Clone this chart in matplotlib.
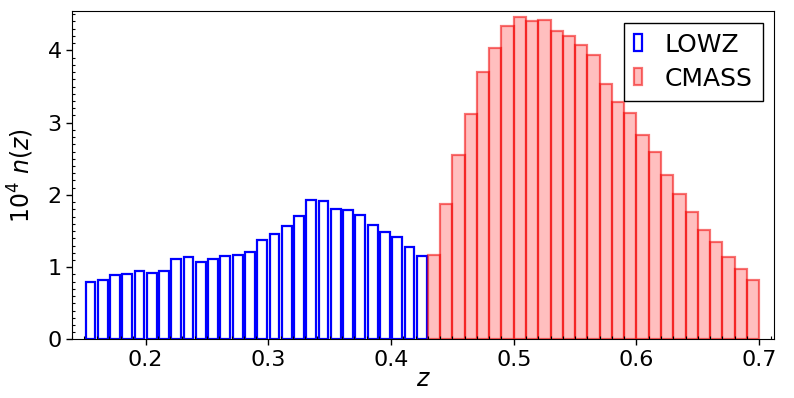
import matplotlib
matplotlib.use("Agg")
import matplotlib.pyplot as plt
from matplotlib.ticker import MultipleLocator
import numpy as np

# n(z) histograms, in units of 1e-4, bin width 0.01
LOWZ_EDGES_START = 0.15
LOWZ_NZ = [0.79, 0.83, 0.89, 0.90, 0.95, 0.92, 0.95, 1.11, 1.14, 1.07,
           1.11, 1.15, 1.17, 1.21, 1.37, 1.46, 1.57, 1.71, 1.93, 1.91,
           1.80, 1.79, 1.72, 1.58, 1.49, 1.42, 1.28, 1.15]

CMASS_EDGES_START = 0.43
CMASS_NZ = [1.17, 1.87, 2.55, 3.12, 3.70, 4.03, 4.34, 4.46, 4.40, 4.42,
            4.27, 4.20, 4.07, 3.94, 3.53, 3.29, 3.13, 2.83, 2.59, 2.28,
            2.01, 1.76, 1.52, 1.35, 1.14, 0.97, 0.82]

BIN = 0.01

plt.rcParams["font.family"] = ["DejaVu Sans"]
plt.rcParams["mathtext.fontset"] = "dejavusans"

fig = plt.figure(figsize=(7.94, 3.98), dpi=100)
ax = fig.add_axes([0.0907, 0.147, 0.884, 0.8245])

lowz_x = LOWZ_EDGES_START + BIN * (np.arange(len(LOWZ_NZ)) + 0.5)
cmass_x = CMASS_EDGES_START + BIN * np.arange(len(CMASS_NZ))

ax.bar(lowz_x, LOWZ_NZ, width=0.8 * BIN, fill=False, edgecolor="#0000ff",
       linewidth=1.6, label="LOWZ")
ax.bar(cmass_x, CMASS_NZ, width=BIN, align="edge", facecolor=(1, 0, 0, 0.25),
       edgecolor=(0.95, 0, 0, 0.55), linewidth=1.6, label="CMASS")

ax.set_xlim(0.14, 0.712)
ax.set_ylim(0, 4.54)
ax.xaxis.set_major_locator(MultipleLocator(0.1))
ax.xaxis.set_minor_locator(MultipleLocator(0.01))
ax.yaxis.set_major_locator(MultipleLocator(1))
ax.yaxis.set_minor_locator(MultipleLocator(0.1))
ax.tick_params(which="major", direction="out", length=4, width=1, labelsize=16)
ax.tick_params(which="minor", direction="in", length=2.5, width=0.8)

ax.set_xlabel(r"$z$", fontsize=17, labelpad=-2)
ax.set_ylabel(r"$10^4\ n(z)$", fontsize=17, labelpad=8)

leg = ax.legend(loc="upper right", fontsize=18, handlelength=0.35,
                handleheight=0.65, handletextpad=0.9, borderpad=0.4,
                labelspacing=0.4, fancybox=False, framealpha=1,
                edgecolor="black", borderaxespad=0.45)
leg.get_frame().set_linewidth(1.0)

fig.savefig("out.png", dpi=100)
